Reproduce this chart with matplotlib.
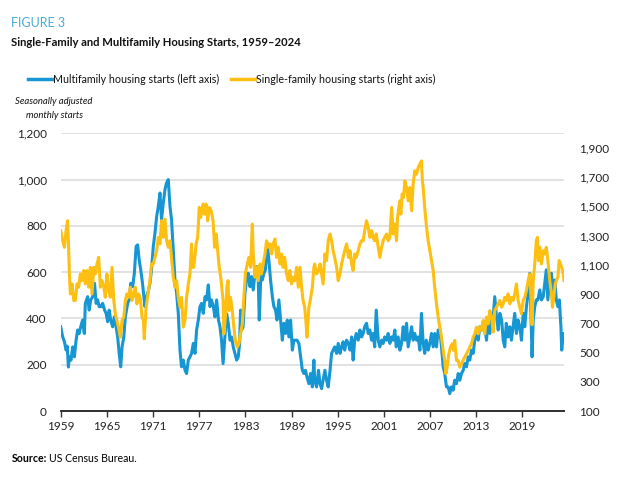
import matplotlib
matplotlib.use("Agg")
import matplotlib.pyplot as plt
from matplotlib.lines import Line2D

plt.rcParams['font.family'] = ['Lato', 'DejaVu Sans']

# multifamily starts, left axis
mf_years = [1959.0, 1959.26, 1959.48, 1959.7, 1959.85, 1960.0, 1960.13, 1960.34, 1960.56, 1960.78,
            1961.0, 1961.2, 1961.4, 1961.6, 1961.85, 1962.07, 1962.2, 1962.5, 1962.7, 1962.9,
            1963.16, 1963.4, 1963.6, 1963.8, 1964.0, 1964.24, 1964.45, 1964.7, 1964.9, 1965.1,
            1965.3, 1965.5, 1965.75, 1965.97, 1966.2, 1966.4, 1966.6, 1966.8, 1966.97, 1967.2,
            1967.4, 1967.7, 1967.9, 1968.1, 1968.35, 1968.57, 1968.8, 1969.0, 1969.2, 1969.4,
            1969.6, 1969.8, 1969.95, 1970.17, 1970.4, 1970.6, 1970.8, 1971.03, 1971.25, 1971.47,
            1971.68, 1971.9, 1972.1, 1972.33, 1972.55, 1972.76, 1972.98, 1973.2, 1973.4, 1973.63,
            1973.85, 1974.06, 1974.28, 1974.5, 1974.7, 1974.93, 1975.15, 1975.36, 1975.58, 1975.8,
            1976.0, 1976.23, 1976.45, 1976.66, 1976.88, 1977.1, 1977.3, 1977.53, 1977.75, 1977.96,
            1978.18, 1978.4, 1978.6, 1978.83, 1979.04, 1979.26, 1979.5, 1979.7, 1979.9, 1980.1,
            1980.3, 1980.56, 1980.77, 1981.0, 1981.2, 1981.42, 1981.64, 1981.86, 1982.07, 1982.25,
            1982.37, 1982.5, 1982.7, 1982.94, 1983.15, 1983.37, 1983.6, 1983.8, 1984.02, 1984.24,
            1984.45, 1984.67, 1984.8, 1985.0, 1985.2, 1985.4, 1985.6, 1985.84, 1986.05, 1986.27,
            1986.5, 1986.7, 1986.92, 1987.1, 1987.35, 1987.57, 1987.8, 1988.0, 1988.22, 1988.44,
            1988.65, 1988.87, 1989.1, 1989.3, 1989.5, 1989.7, 1989.95, 1990.17, 1990.4, 1990.6,
            1990.8, 1991.0, 1991.25, 1991.47, 1991.7, 1991.9, 1992.0, 1992.25, 1992.5, 1992.7,
            1992.9, 1993.1, 1993.33, 1993.55, 1993.76, 1994.0, 1994.2, 1994.4, 1994.6, 1994.85,
            1995.06, 1995.3, 1995.5, 1995.7, 1995.9, 1996.15, 1996.4, 1996.6, 1996.8, 1997.0,
            1997.2, 1997.4, 1997.66, 1997.88, 1998.1, 1998.3, 1998.5, 1998.74, 1998.96, 1999.17,
            1999.4, 1999.6, 1999.8, 2000.0, 2000.26, 2000.47, 2000.7, 2000.9, 2001.1, 2001.35,
            2001.55, 2001.77, 2002.0, 2002.2, 2002.42, 2002.6, 2002.85, 2003.07, 2003.29, 2003.5,
            2003.72, 2003.94, 2004.15, 2004.37, 2004.6, 2004.8, 2005.0, 2005.24, 2005.45, 2005.67,
            2005.88, 2006.1, 2006.3, 2006.5, 2006.75, 2006.97, 2007.18, 2007.4, 2007.6, 2007.83,
            2008.05, 2008.26, 2008.48, 2008.7, 2008.9, 2009.13, 2009.35, 2009.56, 2009.78, 2010.0,
            2010.2, 2010.43, 2010.65, 2010.86, 2011.08, 2011.3, 2011.5, 2011.73, 2011.95, 2012.16,
            2012.38, 2012.6, 2012.8, 2013.03, 2013.25, 2013.46, 2013.68, 2013.9, 2014.1, 2014.33,
            2014.54, 2014.76, 2014.98, 2015.2, 2015.4, 2015.63, 2015.85, 2016.06, 2016.3, 2016.5,
            2016.7, 2016.9, 2017.14, 2017.36, 2017.57, 2017.79, 2018.0, 2018.22, 2018.44, 2018.66,
            2018.87, 2019.1, 2019.3, 2019.52, 2019.74, 2019.95, 2020.08, 2020.25, 2020.4, 2020.6,
            2020.8, 2021.0, 2021.25, 2021.47, 2021.7, 2021.9, 2022.1, 2022.3, 2022.55, 2022.77,
            2023.0, 2023.2, 2023.4, 2023.6, 2023.8, 2024.0, 2024.1, 2024.3, 2024.4]
mf_starts = [364, 320, 300, 263, 280, 190, 234, 220, 277, 234,
             306, 350, 335, 364, 393, 335, 465, 494, 436, 480,
             494, 552, 465, 480, 451, 451, 465, 436, 422, 386,
             436, 393, 364, 407, 364, 320, 249, 191, 277, 320,
             407, 465, 480, 552, 537, 595, 711, 718, 653, 610,
             560, 500, 451, 494, 520, 552, 610, 711, 769, 841,
             884, 942, 827, 899, 957, 986, 1000, 884, 827, 697,
             566, 509, 422, 263, 191, 220, 176, 162, 220, 234,
             249, 292, 249, 350, 393, 451, 465, 422, 494, 480,
             545, 451, 480, 451, 407, 480, 393, 364, 306, 205,
             306, 420, 380, 306, 320, 277, 249, 220, 234, 292,
             436, 350, 364, 509, 566, 595, 537, 581, 523, 595,
             624, 566, 393, 581, 566, 595, 610, 725, 653, 566,
             494, 451, 436, 393, 480, 393, 306, 379, 335, 393,
             320, 393, 263, 306, 306, 306, 292, 234, 176, 162,
             176, 147, 118, 162, 104, 220, 133, 104, 176, 118,
             97, 133, 176, 133, 104, 176, 249, 263, 277, 249,
             292, 249, 277, 299, 263, 306, 292, 263, 320, 220,
             306, 335, 306, 350, 320, 335, 364, 379, 335, 350,
             306, 335, 277, 436, 306, 277, 306, 292, 320, 306,
             335, 292, 320, 306, 350, 277, 320, 263, 292, 364,
             306, 379, 277, 320, 364, 306, 335, 306, 320, 263,
             422, 292, 249, 306, 263, 292, 335, 277, 335, 277,
             350, 350, 277, 191, 162, 104, 104, 75, 104, 90,
             133, 118, 162, 133, 162, 176, 205, 191, 234, 220,
             263, 249, 306, 335, 306, 364, 350, 379, 364, 306,
             393, 335, 393, 407, 494, 407, 350, 422, 393, 306,
             277, 379, 320, 364, 306, 364, 422, 335, 393, 364,
             306, 422, 364, 451, 509, 595, 451, 234, 393, 451,
             480, 480, 523, 480, 494, 552, 610, 480, 581, 595,
             494, 566, 480, 451, 480, 364, 263, 335, 306]

# single-family starts, right axis
sf_years = [1959.0, 1959.26, 1959.48, 1959.7, 1959.9, 1960.04, 1960.13, 1960.26, 1960.47, 1960.7,
            1960.9, 1961.12, 1961.34, 1961.55, 1961.77, 1962.0, 1962.2, 1962.4, 1962.64, 1962.85,
            1963.07, 1963.3, 1963.5, 1963.72, 1963.94, 1964.15, 1964.37, 1964.6, 1964.8, 1965.0,
            1965.23, 1965.45, 1965.67, 1965.9, 1966.1, 1966.3, 1966.5, 1966.75, 1966.97, 1967.2,
            1967.4, 1967.6, 1967.83, 1968.05, 1968.27, 1968.48, 1968.7, 1968.9, 1969.13, 1969.35,
            1969.57, 1969.75, 1969.86, 1970.1, 1970.4, 1970.6, 1970.8, 1971.03, 1971.25, 1971.47,
            1971.68, 1971.9, 1972.1, 1972.33, 1972.55, 1972.76, 1972.98, 1973.2, 1973.4, 1973.63,
            1973.85, 1974.06, 1974.28, 1974.5, 1974.7, 1974.93, 1975.15, 1975.36, 1975.58, 1975.8,
            1976.0, 1976.1, 1976.3, 1976.6, 1976.8, 1977.0, 1977.2, 1977.5, 1977.7, 1977.9,
            1978.1, 1978.3, 1978.55, 1978.8, 1979.0, 1979.2, 1979.4, 1979.6, 1979.8, 1980.1,
            1980.2, 1980.4, 1980.6, 1980.75, 1980.86, 1981.07, 1981.3, 1981.5, 1981.7, 1981.94,
            1982.16, 1982.37, 1982.6, 1982.8, 1983.0, 1983.24, 1983.46, 1983.67, 1983.9, 1984.02,
            1984.24, 1984.45, 1984.67, 1984.9, 1985.1, 1985.3, 1985.54, 1985.75, 1985.97, 1986.2,
            1986.4, 1986.6, 1986.84, 1987.05, 1987.27, 1987.5, 1987.7, 1987.9, 1988.1, 1988.35,
            1988.57, 1988.78, 1989.0, 1989.2, 1989.43, 1989.65, 1989.87, 1990.1, 1990.3, 1990.5,
            1990.7, 1990.86, 1991.0, 1991.25, 1991.47, 1991.7, 1991.9, 1992.0, 1992.25, 1992.5,
            1992.7, 1992.9, 1993.1, 1993.33, 1993.55, 1993.76, 1994.0, 1994.2, 1994.4, 1994.6,
            1994.85, 1995.06, 1995.3, 1995.5, 1995.7, 1995.9, 1996.15, 1996.4, 1996.6, 1996.8,
            1997.0, 1997.2, 1997.4, 1997.66, 1997.88, 1998.1, 1998.3, 1998.5, 1998.74, 1998.96,
            1999.17, 1999.4, 1999.6, 1999.8, 2000.0, 2000.26, 2000.47, 2000.7, 2000.9, 2001.1,
            2001.35, 2001.55, 2001.77, 2002.0, 2002.2, 2002.42, 2002.64, 2002.77, 2002.94, 2003.07,
            2003.2, 2003.37, 2003.55, 2003.72, 2003.94, 2004.15, 2004.37, 2004.6, 2004.8, 2005.0,
            2005.24, 2005.45, 2005.67, 2005.88, 2006.0, 2006.1, 2006.3, 2006.5, 2006.75, 2006.97,
            2007.18, 2007.4, 2007.6, 2007.83, 2008.05, 2008.26, 2008.48, 2008.7, 2008.9, 2009.05,
            2009.22, 2009.43, 2009.65, 2009.87, 2010.08, 2010.2, 2010.43, 2010.65, 2010.86, 2011.08,
            2011.3, 2011.5, 2011.73, 2011.95, 2012.16, 2012.38, 2012.6, 2012.8, 2013.03, 2013.25,
            2013.46, 2013.68, 2013.9, 2014.1, 2014.33, 2014.54, 2014.76, 2014.98, 2015.2, 2015.4,
            2015.63, 2015.85, 2016.06, 2016.3, 2016.5, 2016.7, 2016.9, 2017.14, 2017.36, 2017.57,
            2017.79, 2018.0, 2018.22, 2018.44, 2018.66, 2018.87, 2019.1, 2019.3, 2019.52, 2019.74,
            2019.95, 2020.08, 2020.25, 2020.4, 2020.6, 2020.8, 2020.95, 2021.08, 2021.25, 2021.47,
            2021.7, 2021.9, 2022.1, 2022.3, 2022.55, 2022.77, 2022.9, 2023.07, 2023.25, 2023.4,
            2023.6, 2023.77, 2023.94, 2024.1, 2024.3, 2024.4]
sf_starts = [1334, 1265, 1220, 1334, 1402, 1197, 1038, 901, 969, 856,
             856, 969, 947, 1038, 992, 1061, 969, 1061, 947, 1083,
             901, 1083, 1038, 1106, 1151, 947, 992, 947, 878, 1038,
             924, 878, 1083, 856, 765, 719, 674, 605, 719, 742,
             856, 901, 878, 947, 856, 901, 947, 833, 900, 870,
             742, 719, 594, 810, 924, 992, 1106, 1106, 1151, 1197,
             1288, 1243, 1402, 1288, 1413, 1265, 1220, 1265, 1151, 1015,
             947, 992, 878, 810, 878, 674, 719, 878, 969, 1038,
             1243, 1083, 1083, 1243, 1288, 1493, 1425, 1516, 1447, 1516,
             1402, 1493, 1470, 1402, 1220, 1311, 1197, 1083, 1015, 856,
             628, 742, 950, 992, 787, 878, 787, 674, 583, 537,
             560, 628, 696, 878, 1038, 1106, 1151, 1083, 1379, 1174,
             1015, 1083, 992, 1106, 1038, 1106, 1174, 1265, 1220, 1243,
             1174, 1243, 1277, 1151, 1220, 1106, 1174, 1083, 1151, 1038,
             992, 1061, 969, 1015, 992, 1083, 947, 1083, 947, 856,
             810, 719, 605, 810, 870, 947, 1083, 1106, 1038, 1061,
             1106, 1038, 969, 1174, 1129, 1265, 1311, 1265, 1197, 1151,
             1083, 992, 1038, 1106, 1151, 1197, 1243, 1151, 1197, 1106,
             1061, 1174, 1151, 1197, 1243, 1265, 1265, 1334, 1402, 1356,
             1288, 1334, 1288, 1265, 1311, 1220, 1151, 1220, 1265, 1288,
             1311, 1265, 1288, 1493, 1311, 1379, 1265, 1425, 1493, 1538,
             1447, 1584, 1561, 1675, 1629, 1538, 1629, 1470, 1652, 1743,
             1720, 1766, 1789, 1811, 1675, 1629, 1493, 1379, 1265, 1197,
             1129, 1061, 947, 833, 742, 674, 605, 514, 446, 355,
             400, 491, 537, 560, 514, 583, 446, 446, 400, 423,
             446, 469, 491, 514, 537, 560, 605, 628, 674, 628,
             674, 651, 719, 628, 742, 696, 787, 742, 640, 787,
             810, 833, 856, 810, 833, 878, 856, 901, 833, 878,
             856, 901, 969, 856, 810, 765, 856, 878, 924, 992,
             1038, 924, 690, 992, 1106, 1265, 1288, 1129, 1220, 1106,
             1197, 1174, 1220, 1129, 992, 901, 810, 878, 969, 992,
             1015, 1129, 1106, 1083, 1038, 992]

year_ticks = [1959, 1965, 1971, 1977, 1983, 1989, 1995, 2001, 2007, 2013, 2019]
left_ticks = [0, 200, 400, 600, 800, 1000, 1200]
right_ticks = [100, 300, 500, 700, 900, 1100, 1300, 1500, 1700, 1900]

BLUE = "#1696d2"
YELLOW = "#fdbf11"
W, H = 621, 479

fig = plt.figure(figsize=(W / 100, H / 100), dpi=100)
ax = fig.add_axes([60.7 / W, 1 - 411 / H, (564 - 60.7) / W, (411 - 133.3) / H])
ax2 = ax.twinx()

ax.plot(mf_years, mf_starts, color=BLUE, lw=2.2, solid_joinstyle="round")
ax2.plot(sf_years, sf_starts, color=YELLOW, lw=2.2, solid_joinstyle="round")

ax.set_xlim(1959, 2024.4)
ax.set_ylim(0, 1200)
ax2.set_ylim(100, 2000)

ax.set_yticks(left_ticks)
ax.set_yticklabels([f"{v:,}" for v in left_ticks])
ax2.set_yticks(right_ticks)
ax2.set_yticklabels([f"{v:,}" for v in right_ticks])
ax.set_xticks(year_ticks)
ax.set_xticklabels([str(y) for y in year_ticks])

ax.grid(axis="y", color="#dedddd", lw=1.2)
ax.set_axisbelow(True)
for a in (ax, ax2):
    for s in ("top", "left", "right"):
        a.spines[s].set_visible(False)
    a.spines["bottom"].set_color("#333333")
    a.spines["bottom"].set_linewidth(1.3)
ax.tick_params(axis="y", length=0, pad=10, labelsize=8.5, labelcolor="#222222")
ax2.tick_params(axis="y", length=0, pad=11, labelsize=8.5, labelcolor="#222222")
ax.tick_params(axis="x", length=4, width=1, color="#333333", pad=3, labelsize=8.5,
               labelcolor="#222222")

# header text
fig.text(11 / W, 1 - 23 / H, "FIGURE 3", color="#46abdb", fontsize=9, va="center")
fig.text(11 / W, 1 - 43 / H, "Single-Family and Multifamily Housing Starts, 1959\u20132024",
         fontsize=8.1, fontweight="bold", va="center", color="#111111")

# legend
ly = 1 - 79 / H
fig.add_artist(Line2D([28 / W, 52 / W], [ly, ly], color=BLUE, lw=2.5))
fig.text(53 / W, ly, "Multifamily housing starts (left axis)", fontsize=7.7, va="center",
         color="#111111")
fig.add_artist(Line2D([231 / W, 255 / W], [ly, ly], color=YELLOW, lw=2.5))
fig.text(256 / W, ly, "Single-family housing starts (right axis)", fontsize=7.7, va="center",
         color="#111111")

fig.text(54 / W, 1 - 101 / H, "Seasonally adjusted", fontsize=6.8, style="italic",
         ha="center", va="center", color="#111111")
fig.text(54 / W, 1 - 115 / H, "monthly starts", fontsize=6.8, style="italic",
         ha="center", va="center", color="#111111")

# source line: bold label then plain text right after it
src = fig.text(12 / W, 1 - 459 / H, "Source:", fontsize=7.6, fontweight="bold", va="center")
fig.canvas.draw()
bb = src.get_window_extent()
fig.text((bb.x1 + 2) / W, 1 - 459 / H, "US Census Bureau.", fontsize=7.6, va="center")

fig.savefig("out.png", dpi=100)
